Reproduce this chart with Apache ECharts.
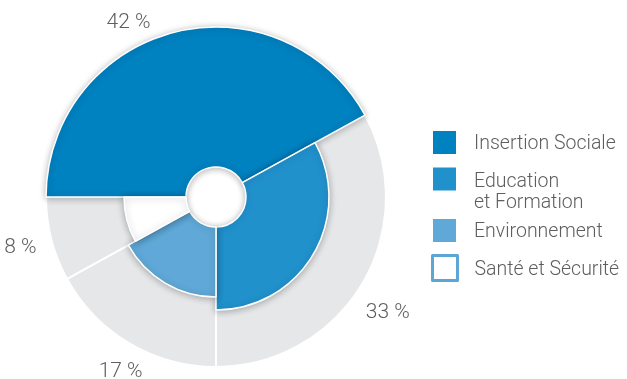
<!DOCTYPE html>
<html>
<head>
<meta charset="utf-8">
<script src="https://cdn.jsdelivr.net/npm/echarts@6/dist/echarts.min.js"></script>
<style>
  html, body { margin: 0; padding: 0; background: #ffffff; }
  #chart { width: 627px; height: 379px; }
</style>
</head>
<body>
<div id="chart"></div>
<script>
// Répartition des actions par domaine (en %)
const categories = ['Insertion Sociale', 'Education et Formation', 'Environnement', 'Santé et Sécurité'];
const shares = [42, 33, 17, 8];

// Drawing settings
const sliceColors = ['#0081c0', '#2191cc', '#5fa8d7', '#ffffff'];
const sliceOuter = [170, 113, 100, 92];
const holeRadius = 30;
const ringRadius = 170;
const center = [216, 197];
const labelNudge = [[-37, 22], [-3, 12], [8, 0], [1, 0]];
const textColor = '#5e5e5e';
const font = 'Roboto';

const chart = echarts.init(document.getElementById('chart'), null, { renderer: 'canvas' });

// Grey ring behind the slices, white borders give the separators
const ringSeries = {
  type: 'pie',
  silent: true,
  z: 1,
  center: center,
  radius: [holeRadius, ringRadius],
  startAngle: 180,
  clockwise: true,
  label: { show: false },
  labelLine: { show: false },
  itemStyle: { color: '#e6e7e8', borderColor: '#ffffff', borderWidth: 2 },
  data: categories.map((name, i) => ({ name, value: shares[i] }))
};

// One pie per domain, each showing only its own slice at its own radius
const sliceSeries = categories.map((cat, k) => ({
  type: 'pie',
  silent: true,
  z: 2 + k,
  center: center,
  radius: [holeRadius, sliceOuter[k]],
  startAngle: 180,
  clockwise: true,
  label: { show: false },
  labelLine: { show: false },
  data: categories.map((name, i) => ({
    name,
    value: shares[i],
    itemStyle: i === k
      ? { color: sliceColors[i], borderColor: '#ffffff', borderWidth: 1.5,
          shadowBlur: 7, shadowColor: 'rgba(0,0,0,0.28)', shadowOffsetY: 1 }
      : { color: 'rgba(0,0,0,0)', borderWidth: 0 }
  }))
}));

// Percentage labels placed around the ring
const labelSeries = {
  type: 'pie',
  silent: true,
  z: 10,
  center: center,
  radius: [190, 210],
  startAngle: 180,
  clockwise: true,
  itemStyle: { color: 'rgba(0,0,0,0)' },
  labelLine: { show: false },
  label: {
    show: true,
    position: 'inside',
    formatter: p => p.value + ' %',
    color: textColor,
    fontFamily: font,
    fontSize: 21,
    fontWeight: 300
  },
  labelLayout: p => ({ dx: labelNudge[p.dataIndex][0], dy: labelNudge[p.dataIndex][1] }),
  data: categories.map((name, i) => ({ name, value: shares[i] }))
};

const legendIcons = [
  { color: sliceColors[0] },
  { color: sliceColors[1] },
  { color: sliceColors[2] },
  { color: '#ffffff', borderColor: '#5ba6d7', borderWidth: 3 }
];
const legendTops = [129, 157, 217, 254];

// A small spacer line above each name lowers the text against its swatch;
// the two-line entry gets a taller one so its first line sits level with the swatch.
const legendText = name => {
  if (name.indexOf(' et Formation') > 0) {
    const parts = name.split(' et Formation');
    return '{gap| }\n{t|' + parts[0] + '}\n{t|et Formation}';
  }
  return '{nudge| }\n{t|' + name + '}';
};

const legendTextStyle = {
  color: textColor,
  fontFamily: font,
  fontSize: 19.5,
  fontWeight: 300,
  padding: [0, 0, 0, 12],
  rich: {
    t: { color: textColor, fontFamily: font, fontSize: 19.5, fontWeight: 300, lineHeight: 21 },
    nudge: { fontSize: 2, lineHeight: 4 },
    gap: { fontSize: 2, lineHeight: 28 }
  }
};

const legends = categories.map((name, i) => ({
  data: [{ name, icon: 'rect', itemStyle: legendIcons[i] }],
  left: 431,
  top: legendTops[i],
  padding: 0,
  itemWidth: 25,
  itemHeight: 25,
  selectedMode: false,
  formatter: legendText,
  textStyle: legendTextStyle
}));

chart.setOption({
  animation: false,
  legend: legends,
  series: [ringSeries, ...sliceSeries, labelSeries]
});
</script>
</body>
</html>
